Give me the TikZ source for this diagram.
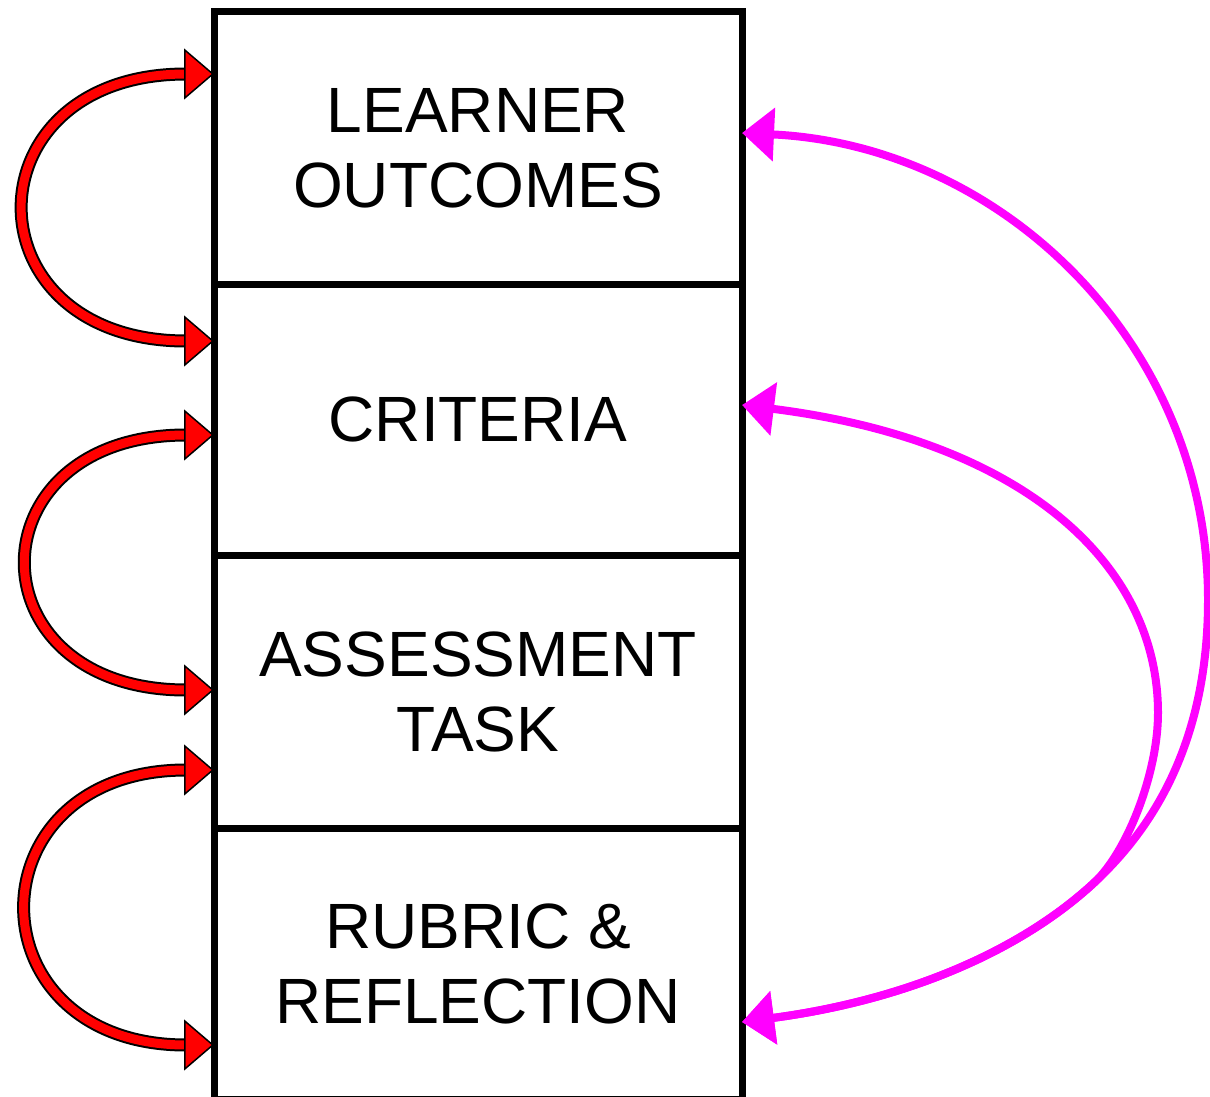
\documentclass[tikz,border=0pt]{standalone}
\usepackage{fontspec}
\setmainfont{Liberation Sans}
\usetikzlibrary{arrows.meta,positioning}

\definecolor{fuchsia}{RGB}{255,0,255}

\tikzset{
  stage/.style={draw, line width=7pt, outer sep=0pt, minimum width=528pt,
    minimum height=272pt, align=center, font=\fontsize{64}{75}\selectfont},
  loop/.style={draw=red, line width=1.5pt, {Triangle[length=30pt,width=51pt,color=black,fill=red]}-{Triangle[length=30pt,width=51pt,color=black,fill=red]},
    preaction={draw=black, line width=13pt, -, shorten <=28pt, shorten >=28pt},
    preaction={draw=red, line width=9pt, -, shorten <=28pt, shorten >=28pt}},
  back/.style={draw=fuchsia, line width=8pt,
    {Triangle[length=32pt,width=52pt]}-{Triangle[length=32pt,width=52pt]}}
}

\begin{document}
\begin{tikzpicture}[x=1pt,y=-1pt]
\useasboundingbox (0,0) rectangle (1210,1097);
% the four stages
\node[stage] (lo) at (478,148) {LEARNER\\OUTCOMES};
\node[stage, below=0pt of lo, minimum height=271pt] (cr) {CRITERIA};
\node[stage, below=0pt of cr, minimum height=273pt] (at) {ASSESSMENT\\TASK};
\node[stage, below=0pt of at, minimum height=271pt] (rr) {RUBRIC \&\\REFLECTION};
% end points on the boxes
\coordinate (lo-a) at (lo.west |- 0,74);
\coordinate (cr-a) at (cr.west |- 0,341);
\coordinate (cr-b) at (cr.west |- 0,435);
\coordinate (at-a) at (at.west |- 0,690);
\coordinate (at-b) at (at.west |- 0,770);
\coordinate (rr-a) at (rr.west |- 0,1045);
\coordinate (lo-m) at (lo.east |- 0,133);
\coordinate (cr-m) at (cr.east |- 0,405);
\coordinate (rr-m) at (rr.east |- 0,1022);
% where the two feedback curves part, and their far points
\coordinate (fork) at (1094.25,882.6);
\coordinate (far-lo) at (1208,600);
\coordinate (far-cr) at (1158,713);
% red loops, left side
\draw[loop] (lo-a) to[out=180,in=180,looseness=2.38] (cr-a);
\draw[loop] (cr-b) to[out=180,in=180,looseness=2.45] (at-a);
\draw[loop] (at-b) to[out=180,in=180,looseness=2.28] (rr-a);
% magenta feedback, right side
\draw[back] (rr-m) .. controls +(159,-21) and +(-76.75,71.1) .. (fork)
  .. controls +(76.75,-71.1) and +(0,116.5) .. (far-lo)
  .. controls +(0,-258) and +(258,12) .. (lo-m);
\draw[back] (rr-m) .. controls +(159,-21) and +(-76.75,71.1) .. (fork)
  .. controls +(33,-31) and +(0,60) .. (far-cr)
  .. controls +(0,-150) and +(280,35) .. (cr-m);
\end{tikzpicture}
\end{document}
